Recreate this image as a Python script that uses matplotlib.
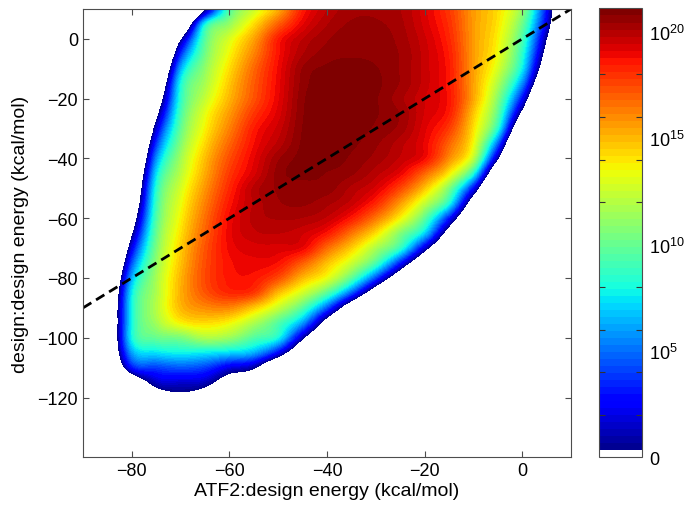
import numpy as np
import matplotlib.pyplot as plt
from matplotlib.colors import ListedColormap, Normalize
from matplotlib.ticker import FixedLocator

plt.rcParams['font.family'] = ['Liberation Sans', 'DejaVu Sans']
plt.rcParams['mathtext.fontset'] = 'custom'
plt.rcParams['mathtext.rm'] = 'Liberation Sans'
plt.rcParams['mathtext.it'] = 'Liberation Sans:italic'

# grid of the 2D histogram (kcal/mol), values are log10(count)
atf2_energy = [-90, -85, -80, -75, -70, -65, -60, -55, -50, -45, -40,
               -35, -30, -25, -20, -15, -10, -5, 0, 5, 10]
design_energy = [10, 5, 0, -5, -10, -15, -20, -25, -30, -35, -40, -45, -50,
                 -55, -60, -65, -70, -75, -80, -85, -90, -95, -100, -105,
                 -110, -115, -120, -125]
E = -12.0   # empty bins
log10_count = [
    [E, E, E, E, E, 0.3, 9.4, 12.6, 15.3, 18.5, 19.8, 20.3, 20.35, 20.1, 19.2, 17.8, 15.6, 14.1, 10.9, 2.6, -8.9],
    [E, E, E, E, -5.6, 7.9, 11.2, 14.2, 17.0, 19.1, 20.1, 20.5, 20.5, 20.2, 19.3, 18.0, 15.6, 13.9, 10.0, 1.7, -9.6],
    [E, E, E, E, 0.1, 9.6, 12.9, 15.5, 18.5, 19.8, 20.4, 20.65, 20.65, 20.3, 19.5, 18.2, 15.6, 13.6, 9.1, 0.1, -10.7],
    [E, E, E, -9.9, 3.6, 10.3, 13.6, 16.2, 18.7, 20.1, 20.6, 20.7, 20.65, 20.4, 19.6, 18.4, 15.6, 13.3, 8.3, -1.4, E],
    [E, E, E, -7.2, 6.3, 11.1, 14.2, 16.8, 18.9, 20.5, 20.85, 21.0, 20.8, 20.4, 19.6, 18.5, 15.5, 12.7, 7.4, -3.3, E],
    [E, E, E, -4.8, 8.0, 11.7, 14.7, 17.1, 19.0, 20.6, 20.95, 21.0, 20.85, 20.4, 19.6, 18.5, 15.4, 11.7, 5.3, -6.0, E],
    [E, E, E, -2.6, 8.5, 12.4, 15.1, 17.3, 19.1, 20.7, 20.95, 20.95, 20.8, 20.2, 19.45, 18.6, 15.3, 10.65, 2.5, -9.4, E],
    [E, E, E, -0.5, 9.2, 13.2, 15.7, 17.9, 19.3, 20.75, 21.0, 20.95, 20.8, 20.4, 19.4, 18.4, 14.6, 9.6, -0.9, E, E],
    [E, E, -11.8, 1.7, 9.9, 13.7, 16.25, 18.5, 19.6, 20.8, 21.0, 20.95, 20.7, 20.3, 19.2, 17.7, 14.0, 8.1, -5.1, E, E],
    [E, E, -9.7, 3.8, 10.7, 14.3, 16.85, 18.8, 19.9, 20.85, 21.0, 20.85, 20.5, 19.9, 19.0, 16.8, 13.3, 4.5, -9.3, E, E],
    [E, E, -7.8, 5.7, 11.5, 14.9, 17.4, 19.1, 20.4, 20.9, 21.0, 20.7, 20.3, 19.7, 18.8, 15.9, 12.0, 0.33, E, E, E],
    [E, E, -6.2, 7.3, 12.1, 15.3, 17.85, 19.35, 20.6, 20.9, 20.75, 20.5, 19.9, 19.0, 16.8, 13.8, 8.1, -4.9, E, E, E],
    [E, E, -4.8, 8.35, 12.8, 15.8, 18.25, 19.9, 20.5, 20.6, 20.6, 20.0, 19.3, 17.5, 14.7, 10.5, 2.5, -9.4, E, E, E],
    [E, E, -3.5, 8.9, 13.3, 16.25, 18.6, 19.85, 20.4, 20.5, 20.2, 19.6, 18.2, 15.6, 12.3, 8.0, -2.4, E, E, E, E],
    [E, E, -1.8, 9.4, 13.7, 16.65, 18.9, 19.9, 20.15, 20.1, 19.7, 18.5, 16.4, 13.6, 9.7, 3.0, -6.5, E, E, E, E],
    [E, E, 0.06, 10.0, 14.1, 16.95, 19.0, 19.7, 19.8, 19.5, 18.6, 16.5, 14.1, 10.7, 7.0, -1.8, -10.5, E, E, E, E],
    [E, -11.3, 2.2, 10.55, 14.5, 17.25, 18.9, 19.3, 19.3, 19.0, 16.7, 14.5, 11.7, 8.6, 1.6, -6.4, E, E, E, E, E],
    [E, -9.1, 4.4, 11.1, 14.8, 17.4, 18.7, 19.0, 18.7, 17.0, 14.8, 12.5, 9.2, 3.1, -4.6, E, E, E, E, E, E],
    [E, -7.2, 6.3, 11.6, 15.1, 17.5, 18.6, 18.6, 17.4, 15.0, 13.2, 9.7, 4.1, -3.4, -11.0, E, E, E, E, E, E],
    [E, -5.9, 7.6, 11.8, 15.2, 17.2, 18.2, 17.8, 14.9, 12.6, 9.6, 4.5, -3.0, -10.5, E, E, E, E, E, E, E],
    [E, -5.1, 7.9, 12.0, 15.0, 16.0, 16.1, 14.6, 12.4, 9.5, 4.4, -3.1, -10.6, E, E, E, E, E, E, E, E],
    [E, -5.1, 7.9, 11.5, 13.7, 14.2, 13.6, 11.8, 9.5, 5.9, -1.6, -9.1, E, E, E, E, E, E, E, E, E],
    [E, -5.1, 7.9, 10.0, 10.5, 11.8, 11.3, 9.5, 7.9, 0.9, -6.3, E, E, E, E, E, E, E, E, E, E],
    [E, -5.1, 6.0, 7.4, 7.8, 7.6, 7.2, 6.3, 2.5, -4.7, E, E, E, E, E, E, E, E, E, E, E],
    [E, -6.9, 3.0, 4.0, 4.5, 4.0, 2.0, 0.7, -4.8, E, E, E, E, E, E, E, E, E, E, E, E],
    [E, E, -3.0, 1.3, 1.6, 1.2, -1.5, -3.0, -6.0, E, E, E, E, E, E, E, E, E, E, E, E],
    [E, E, -4.0, -1.5, -0.5, -1.5, -4.0, -8.0, E, E, E, E, E, E, E, E, E, E, E, E, E],
    [E, E, E, -4.5, -4.5, -4.5, -4.5, E, E, E, E, E, E, E, E, E, E, E, E, E, E],
]

cbar_ticks = [0, 5, 10, 15, 20]
cbar_labels = ['0', '$10^{5}$', '$10^{10}$', '$10^{15}$', '$10^{20}$']
cbar_minor = [0, 2, 4, 6, 8, 10, 12, 14, 16, 18, 20]
cmax = 21.1

# matlab style jet(64) with the lowest entry white
colors = plt.get_cmap('jet', 64)(np.arange(64))
colors[0] = (1, 1, 1, 1)
cmap = ListedColormap(colors)
cmap.set_under('white')
cmap.set_over(colors[-1])

fig = plt.figure(figsize=(6.89, 5.10), dpi=100)
ax = fig.add_axes([0.1205, 0.1014, 0.7083, 0.879])
cax = fig.add_axes([0.8698, 0.1014, 0.0624, 0.880])

dx = (atf2_energy[1] - atf2_energy[0]) / 2
dy = (design_energy[0] - design_energy[1]) / 2
extent = [atf2_energy[0] - dx, atf2_energy[-1] + dx,
          design_energy[-1] - dy, design_energy[0] + dy]
im = ax.imshow(np.array(log10_count), extent=extent, origin='upper',
               aspect='auto', cmap=cmap, norm=Normalize(0, cmax),
               interpolation='catrom', interpolation_stage='data')

ax.axline((0, 0), slope=1, color='k', lw=2, dashes=(3.5, 2))

ax.set_xlim(-90, 10)
ax.set_ylim(-140, 10)
ax.set_xticks([-80, -60, -40, -20, 0])
ax.set_yticks([-120, -100, -80, -60, -40, -20, 0])
ax.tick_params(direction='in', top=True, right=True, length=4, width=0.8,
               color='0.3', labelsize=13)
for s in ax.spines.values():
    s.set_color('0.3')
    s.set_linewidth(0.8)
ax.set_xlabel('ATF2:design energy (kcal/mol)', fontsize=14, labelpad=2)
ax.set_ylabel('design:design energy (kcal/mol)', fontsize=14, labelpad=6)

cb = fig.colorbar(im, cax=cax)
cb.set_ticks(cbar_ticks, labels=cbar_labels)
cax.yaxis.set_minor_locator(FixedLocator(cbar_minor))
cax.tick_params(which='major', length=0, pad=5, labelsize=13)
cax.tick_params(which='minor', direction='in', left=True, right=True,
                length=4, width=0.8, color='0.2')
cb.outline.set_edgecolor('0.3')
cb.outline.set_linewidth(0.8)

fig.savefig('out.png', dpi=100)
